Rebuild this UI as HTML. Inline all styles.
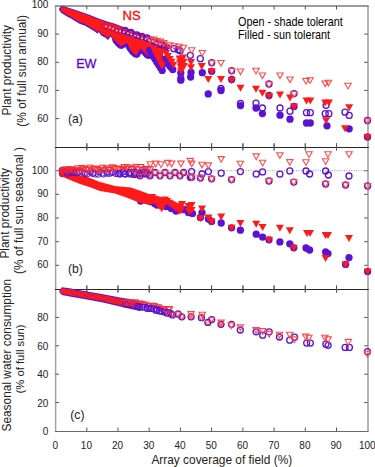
<!DOCTYPE html><html><head><meta charset="utf-8"><style>html,body{margin:0;padding:0;background:#fff;width:375px;height:467px;overflow:hidden}svg{display:block}text{font-family:"Liberation Sans",sans-serif}</style></head><body>
<svg width="375" height="467" viewBox="0 0 375 467">
<defs><pattern id="hatch" width="3.4" height="3.4" patternUnits="userSpaceOnUse" patternTransform="rotate(25)"><rect width="3.4" height="3.4" fill="#ff1a1a"/><rect width="1.0" height="1.6" fill="#5a12d6" fill-opacity="0.7"/></pattern><pattern id="hatch2" width="3.0" height="3.0" patternUnits="userSpaceOnUse" patternTransform="rotate(35)"><rect width="3.0" height="3.0" fill="#ff1a1a"/><rect width="0.9" height="3.0" fill="#5a12d6" fill-opacity="0.6"/></pattern></defs>
<rect width="375" height="467" fill="#fff"/>
<line x1="55.6" y1="6" x2="55.6" y2="431" stroke="#a2a2a2" stroke-width="1.5"/>
<line x1="368.0" y1="6" x2="368.0" y2="431" stroke="#a2a2a2" stroke-width="1.6"/>
<line x1="54.9" y1="6" x2="368.7" y2="6" stroke="#7a7a7a" stroke-width="1.5"/>
<line x1="54.9" y1="431.5" x2="368.7" y2="431.5" stroke="#6a6a6a" stroke-width="1.2"/>
<line x1="54.9" y1="147.5" x2="368.7" y2="147.5" stroke="#262626" stroke-width="1.2"/>
<line x1="54.9" y1="289.5" x2="368.7" y2="289.5" stroke="#262626" stroke-width="1.2"/>
<line x1="55.6" y1="118.6" x2="59.1" y2="118.6" stroke="#555555" stroke-width="1.0"/>
<line x1="364.2" y1="118.6" x2="367.7" y2="118.6" stroke="#555555" stroke-width="1.0"/>
<line x1="55.6" y1="90.4" x2="59.1" y2="90.4" stroke="#555555" stroke-width="1.0"/>
<line x1="364.2" y1="90.4" x2="367.7" y2="90.4" stroke="#555555" stroke-width="1.0"/>
<line x1="55.6" y1="62.3" x2="59.1" y2="62.3" stroke="#555555" stroke-width="1.0"/>
<line x1="364.2" y1="62.3" x2="367.7" y2="62.3" stroke="#555555" stroke-width="1.0"/>
<line x1="55.6" y1="34.1" x2="59.1" y2="34.1" stroke="#555555" stroke-width="1.0"/>
<line x1="364.2" y1="34.1" x2="367.7" y2="34.1" stroke="#555555" stroke-width="1.0"/>
<line x1="86.8" y1="6.0" x2="86.8" y2="9.5" stroke="#555555" stroke-width="1.0"/>
<line x1="86.8" y1="143.2" x2="86.8" y2="150.2" stroke="#555555" stroke-width="1.0"/>
<line x1="118.0" y1="6.0" x2="118.0" y2="9.5" stroke="#555555" stroke-width="1.0"/>
<line x1="118.0" y1="143.2" x2="118.0" y2="150.2" stroke="#555555" stroke-width="1.0"/>
<line x1="149.2" y1="6.0" x2="149.2" y2="9.5" stroke="#555555" stroke-width="1.0"/>
<line x1="149.2" y1="143.2" x2="149.2" y2="150.2" stroke="#555555" stroke-width="1.0"/>
<line x1="180.4" y1="6.0" x2="180.4" y2="9.5" stroke="#555555" stroke-width="1.0"/>
<line x1="180.4" y1="143.2" x2="180.4" y2="150.2" stroke="#555555" stroke-width="1.0"/>
<line x1="211.6" y1="6.0" x2="211.6" y2="9.5" stroke="#555555" stroke-width="1.0"/>
<line x1="211.6" y1="143.2" x2="211.6" y2="150.2" stroke="#555555" stroke-width="1.0"/>
<line x1="242.9" y1="6.0" x2="242.9" y2="9.5" stroke="#555555" stroke-width="1.0"/>
<line x1="242.9" y1="143.2" x2="242.9" y2="150.2" stroke="#555555" stroke-width="1.0"/>
<line x1="274.1" y1="6.0" x2="274.1" y2="9.5" stroke="#555555" stroke-width="1.0"/>
<line x1="274.1" y1="143.2" x2="274.1" y2="150.2" stroke="#555555" stroke-width="1.0"/>
<line x1="305.3" y1="6.0" x2="305.3" y2="9.5" stroke="#555555" stroke-width="1.0"/>
<line x1="305.3" y1="143.2" x2="305.3" y2="150.2" stroke="#555555" stroke-width="1.0"/>
<line x1="336.5" y1="6.0" x2="336.5" y2="9.5" stroke="#555555" stroke-width="1.0"/>
<line x1="336.5" y1="143.2" x2="336.5" y2="150.2" stroke="#555555" stroke-width="1.0"/>
<line x1="55.6" y1="265.3" x2="59.1" y2="265.3" stroke="#555555" stroke-width="1.0"/>
<line x1="364.2" y1="265.3" x2="367.7" y2="265.3" stroke="#555555" stroke-width="1.0"/>
<line x1="55.6" y1="241.7" x2="59.1" y2="241.7" stroke="#555555" stroke-width="1.0"/>
<line x1="364.2" y1="241.7" x2="367.7" y2="241.7" stroke="#555555" stroke-width="1.0"/>
<line x1="55.6" y1="218.0" x2="59.1" y2="218.0" stroke="#555555" stroke-width="1.0"/>
<line x1="364.2" y1="218.0" x2="367.7" y2="218.0" stroke="#555555" stroke-width="1.0"/>
<line x1="55.6" y1="194.3" x2="59.1" y2="194.3" stroke="#555555" stroke-width="1.0"/>
<line x1="364.2" y1="194.3" x2="367.7" y2="194.3" stroke="#555555" stroke-width="1.0"/>
<line x1="55.6" y1="170.7" x2="59.1" y2="170.7" stroke="#555555" stroke-width="1.0"/>
<line x1="364.2" y1="170.7" x2="367.7" y2="170.7" stroke="#555555" stroke-width="1.0"/>
<line x1="86.8" y1="143.5" x2="86.8" y2="150.5" stroke="#555555" stroke-width="1.0"/>
<line x1="86.8" y1="285.5" x2="86.8" y2="292.5" stroke="#555555" stroke-width="1.0"/>
<line x1="118.0" y1="143.5" x2="118.0" y2="150.5" stroke="#555555" stroke-width="1.0"/>
<line x1="118.0" y1="285.5" x2="118.0" y2="292.5" stroke="#555555" stroke-width="1.0"/>
<line x1="149.2" y1="143.5" x2="149.2" y2="150.5" stroke="#555555" stroke-width="1.0"/>
<line x1="149.2" y1="285.5" x2="149.2" y2="292.5" stroke="#555555" stroke-width="1.0"/>
<line x1="180.4" y1="143.5" x2="180.4" y2="150.5" stroke="#555555" stroke-width="1.0"/>
<line x1="180.4" y1="285.5" x2="180.4" y2="292.5" stroke="#555555" stroke-width="1.0"/>
<line x1="211.6" y1="143.5" x2="211.6" y2="150.5" stroke="#555555" stroke-width="1.0"/>
<line x1="211.6" y1="285.5" x2="211.6" y2="292.5" stroke="#555555" stroke-width="1.0"/>
<line x1="242.9" y1="143.5" x2="242.9" y2="150.5" stroke="#555555" stroke-width="1.0"/>
<line x1="242.9" y1="285.5" x2="242.9" y2="292.5" stroke="#555555" stroke-width="1.0"/>
<line x1="274.1" y1="143.5" x2="274.1" y2="150.5" stroke="#555555" stroke-width="1.0"/>
<line x1="274.1" y1="285.5" x2="274.1" y2="292.5" stroke="#555555" stroke-width="1.0"/>
<line x1="305.3" y1="143.5" x2="305.3" y2="150.5" stroke="#555555" stroke-width="1.0"/>
<line x1="305.3" y1="285.5" x2="305.3" y2="292.5" stroke="#555555" stroke-width="1.0"/>
<line x1="336.5" y1="143.5" x2="336.5" y2="150.5" stroke="#555555" stroke-width="1.0"/>
<line x1="336.5" y1="285.5" x2="336.5" y2="292.5" stroke="#555555" stroke-width="1.0"/>
<line x1="55.6" y1="402.6" x2="59.1" y2="402.6" stroke="#555555" stroke-width="1.0"/>
<line x1="364.2" y1="402.6" x2="367.7" y2="402.6" stroke="#555555" stroke-width="1.0"/>
<line x1="55.6" y1="374.2" x2="59.1" y2="374.2" stroke="#555555" stroke-width="1.0"/>
<line x1="364.2" y1="374.2" x2="367.7" y2="374.2" stroke="#555555" stroke-width="1.0"/>
<line x1="55.6" y1="345.8" x2="59.1" y2="345.8" stroke="#555555" stroke-width="1.0"/>
<line x1="364.2" y1="345.8" x2="367.7" y2="345.8" stroke="#555555" stroke-width="1.0"/>
<line x1="55.6" y1="317.4" x2="59.1" y2="317.4" stroke="#555555" stroke-width="1.0"/>
<line x1="364.2" y1="317.4" x2="367.7" y2="317.4" stroke="#555555" stroke-width="1.0"/>
<line x1="86.8" y1="285.5" x2="86.8" y2="292.5" stroke="#555555" stroke-width="1.0"/>
<line x1="86.8" y1="427.5" x2="86.8" y2="431.0" stroke="#555555" stroke-width="1.0"/>
<line x1="118.0" y1="285.5" x2="118.0" y2="292.5" stroke="#555555" stroke-width="1.0"/>
<line x1="118.0" y1="427.5" x2="118.0" y2="431.0" stroke="#555555" stroke-width="1.0"/>
<line x1="149.2" y1="285.5" x2="149.2" y2="292.5" stroke="#555555" stroke-width="1.0"/>
<line x1="149.2" y1="427.5" x2="149.2" y2="431.0" stroke="#555555" stroke-width="1.0"/>
<line x1="180.4" y1="285.5" x2="180.4" y2="292.5" stroke="#555555" stroke-width="1.0"/>
<line x1="180.4" y1="427.5" x2="180.4" y2="431.0" stroke="#555555" stroke-width="1.0"/>
<line x1="211.6" y1="285.5" x2="211.6" y2="292.5" stroke="#555555" stroke-width="1.0"/>
<line x1="211.6" y1="427.5" x2="211.6" y2="431.0" stroke="#555555" stroke-width="1.0"/>
<line x1="242.9" y1="285.5" x2="242.9" y2="292.5" stroke="#555555" stroke-width="1.0"/>
<line x1="242.9" y1="427.5" x2="242.9" y2="431.0" stroke="#555555" stroke-width="1.0"/>
<line x1="274.1" y1="285.5" x2="274.1" y2="292.5" stroke="#555555" stroke-width="1.0"/>
<line x1="274.1" y1="427.5" x2="274.1" y2="431.0" stroke="#555555" stroke-width="1.0"/>
<line x1="305.3" y1="285.5" x2="305.3" y2="292.5" stroke="#555555" stroke-width="1.0"/>
<line x1="305.3" y1="427.5" x2="305.3" y2="431.0" stroke="#555555" stroke-width="1.0"/>
<line x1="336.5" y1="285.5" x2="336.5" y2="292.5" stroke="#555555" stroke-width="1.0"/>
<line x1="336.5" y1="427.5" x2="336.5" y2="431.0" stroke="#555555" stroke-width="1.0"/>
<circle cx="116.0" cy="40.0" r="3.65" fill="#5a12d6"/>
<circle cx="117.3" cy="41.6" r="3.65" fill="#5a12d6"/>
<circle cx="118.6" cy="43.0" r="3.65" fill="#5a12d6"/>
<circle cx="119.9" cy="44.2" r="3.65" fill="#5a12d6"/>
<circle cx="121.2" cy="45.2" r="3.65" fill="#5a12d6"/>
<circle cx="122.5" cy="44.3" r="3.65" fill="#5a12d6"/>
<circle cx="123.8" cy="43.3" r="3.65" fill="#5a12d6"/>
<circle cx="125.1" cy="42.8" r="3.65" fill="#5a12d6"/>
<circle cx="126.4" cy="42.4" r="3.65" fill="#5a12d6"/>
<circle cx="127.7" cy="43.0" r="3.65" fill="#5a12d6"/>
<circle cx="129.0" cy="45.8" r="3.65" fill="#5a12d6"/>
<circle cx="130.3" cy="48.0" r="3.65" fill="#5a12d6"/>
<circle cx="131.6" cy="49.8" r="3.65" fill="#5a12d6"/>
<circle cx="132.9" cy="51.5" r="3.65" fill="#5a12d6"/>
<circle cx="134.2" cy="52.6" r="3.65" fill="#5a12d6"/>
<circle cx="135.5" cy="53.7" r="3.65" fill="#5a12d6"/>
<circle cx="136.8" cy="54.0" r="3.65" fill="#5a12d6"/>
<circle cx="138.1" cy="51.4" r="3.65" fill="#5a12d6"/>
<circle cx="139.4" cy="48.9" r="3.65" fill="#5a12d6"/>
<circle cx="140.7" cy="47.5" r="3.65" fill="#5a12d6"/>
<circle cx="142.0" cy="48.8" r="3.65" fill="#5a12d6"/>
<circle cx="143.3" cy="50.2" r="3.65" fill="#5a12d6"/>
<circle cx="144.6" cy="51.5" r="3.65" fill="#5a12d6"/>
<circle cx="145.9" cy="52.9" r="3.65" fill="#5a12d6"/>
<circle cx="147.2" cy="54.4" r="3.65" fill="#5a12d6"/>
<circle cx="148.5" cy="55.2" r="3.65" fill="#5a12d6"/>
<circle cx="149.8" cy="52.7" r="3.65" fill="#5a12d6"/>
<circle cx="151.1" cy="50.4" r="3.65" fill="#5a12d6"/>
<circle cx="152.4" cy="52.1" r="3.65" fill="#5a12d6"/>
<circle cx="153.7" cy="53.7" r="3.65" fill="#5a12d6"/>
<circle cx="155.0" cy="55.3" r="3.65" fill="#5a12d6"/>
<circle cx="156.3" cy="57.5" r="3.65" fill="#5a12d6"/>
<circle cx="157.6" cy="59.7" r="3.65" fill="#5a12d6"/>
<circle cx="158.9" cy="61.9" r="3.65" fill="#5a12d6"/>
<circle cx="160.2" cy="64.3" r="3.65" fill="#5a12d6"/>
<circle cx="161.5" cy="65.4" r="3.65" fill="#5a12d6"/>
<polygon points="59.0,8.5 60.5,6.8 63.0,6.0 71.0,8.6 80.0,11.4 89.3,14.7 98.7,18.4 108.0,21.7 115.0,23.8 122.0,26.5 130.7,29.8 136.3,32.0 141.3,33.8 145.7,35.2 155.0,37.8 160.0,40.0 166.0,42.7 170.0,45.0 170.0,48.5 163.0,53.0 161.4,70.0 158.4,64.5 155.2,59.1 151.0,53.8 148.3,59.1 144.5,54.9 140.3,50.6 136.5,58.1 132.8,54.9 129.6,50.6 127.3,45.6 124.0,46.7 121.0,48.8 117.7,45.6 115.0,42.2 112.7,39.9 110.8,36.6 108.0,39.9 105.2,37.5 101.5,35.7 98.7,31.9 97.7,33.8 94.0,31.0 89.3,28.2 84.7,25.4 80.0,24.0 75.0,21.0 71.0,18.6 67.0,16.6 61.4,13.0 59.4,10.6" fill="#5a12d6"/>
<polygon points="59.8,9.5 61.3,7.8 63.0,7.0 71.0,9.6 80.0,12.4 89.3,15.7 98.7,19.4 108.0,22.7 115.0,24.8 122.0,27.5 130.7,30.8 136.3,33.0 141.3,34.8 145.7,36.2 155.0,38.8 160.0,41.0 166.0,43.7 170.0,46.0 170.0,46.1 163.0,50.6 161.4,67.6 158.4,62.1 155.2,56.7 151.0,51.4 148.3,56.7 144.5,52.5 140.3,48.2 136.5,55.7 132.8,52.5 129.6,48.2 127.3,43.2 124.0,44.3 121.0,46.4 117.7,43.2 115.0,40.5 112.7,38.2 110.8,34.9 108.0,38.2 105.2,35.8 101.5,34.0 98.7,30.2 97.7,32.1 94.0,29.3 89.3,26.5 84.7,23.7 80.0,22.3 75.0,19.3 71.0,16.9 67.0,14.9 61.4,11.3 60.2,8.9" fill="#ff1a1a"/>
<circle cx="190.3" cy="55.3" r="3.00" fill="none" stroke="#5a12d6" stroke-width="1.3"/>
<circle cx="200.3" cy="58.7" r="3.00" fill="none" stroke="#5a12d6" stroke-width="1.3"/>
<circle cx="211.7" cy="62.7" r="3.00" fill="none" stroke="#5a12d6" stroke-width="1.3"/>
<circle cx="221.0" cy="88.5" r="3.00" fill="none" stroke="#5a12d6" stroke-width="1.3"/>
<circle cx="231.7" cy="70.7" r="3.00" fill="none" stroke="#5a12d6" stroke-width="1.3"/>
<circle cx="240.5" cy="103.5" r="3.00" fill="none" stroke="#5a12d6" stroke-width="1.3"/>
<circle cx="256.0" cy="103.2" r="3.00" fill="none" stroke="#5a12d6" stroke-width="1.3"/>
<circle cx="262.4" cy="108.0" r="3.00" fill="none" stroke="#5a12d6" stroke-width="1.3"/>
<circle cx="269.0" cy="84.0" r="3.00" fill="none" stroke="#5a12d6" stroke-width="1.3"/>
<circle cx="280.0" cy="108.0" r="3.00" fill="none" stroke="#5a12d6" stroke-width="1.3"/>
<circle cx="290.0" cy="111.2" r="3.00" fill="none" stroke="#5a12d6" stroke-width="1.3"/>
<circle cx="294.0" cy="93.6" r="3.00" fill="none" stroke="#5a12d6" stroke-width="1.3"/>
<circle cx="306.5" cy="112.7" r="3.00" fill="none" stroke="#5a12d6" stroke-width="1.3"/>
<circle cx="310.3" cy="112.7" r="3.00" fill="none" stroke="#5a12d6" stroke-width="1.3"/>
<circle cx="326.1" cy="105.3" r="3.00" fill="none" stroke="#5a12d6" stroke-width="1.3"/>
<circle cx="325.2" cy="113.7" r="3.00" fill="none" stroke="#5a12d6" stroke-width="1.3"/>
<circle cx="328.9" cy="113.7" r="3.00" fill="none" stroke="#5a12d6" stroke-width="1.3"/>
<circle cx="345.0" cy="112.2" r="3.00" fill="none" stroke="#5a12d6" stroke-width="1.3"/>
<circle cx="349.2" cy="115.4" r="3.00" fill="none" stroke="#5a12d6" stroke-width="1.3"/>
<circle cx="367.5" cy="120.5" r="3.00" fill="none" stroke="#5a12d6" stroke-width="1.3"/>
<circle cx="103.8" cy="26.1" r="2.4" fill="none" stroke="#5a12d6" stroke-width="0.7" stroke-opacity="0.6"/>
<circle cx="108.1" cy="28.0" r="2.4" fill="none" stroke="#5a12d6" stroke-width="0.7" stroke-opacity="0.6"/>
<circle cx="112.2" cy="28.7" r="2.4" fill="none" stroke="#5a12d6" stroke-width="0.7" stroke-opacity="0.6"/>
<circle cx="116.5" cy="30.7" r="2.4" fill="none" stroke="#5a12d6" stroke-width="0.7" stroke-opacity="0.6"/>
<circle cx="120.6" cy="32.0" r="2.4" fill="none" stroke="#5a12d6" stroke-width="0.7" stroke-opacity="0.6"/>
<circle cx="125.1" cy="32.7" r="2.4" fill="none" stroke="#5a12d6" stroke-width="0.7" stroke-opacity="0.6"/>
<circle cx="129.2" cy="34.3" r="2.4" fill="none" stroke="#5a12d6" stroke-width="0.7" stroke-opacity="0.6"/>
<circle cx="133.4" cy="36.2" r="2.4" fill="none" stroke="#5a12d6" stroke-width="0.7" stroke-opacity="0.6"/>
<circle cx="137.4" cy="36.6" r="2.4" fill="none" stroke="#5a12d6" stroke-width="0.7" stroke-opacity="0.6"/>
<circle cx="147.1" cy="38.0" r="3.00" fill="none" stroke="#5a12d6" stroke-width="1.3"/>
<circle cx="151.4" cy="40.1" r="3.00" fill="none" stroke="#5a12d6" stroke-width="1.3"/>
<circle cx="154.6" cy="41.7" r="3.00" fill="none" stroke="#5a12d6" stroke-width="1.3"/>
<circle cx="158.9" cy="43.9" r="3.00" fill="none" stroke="#5a12d6" stroke-width="1.3"/>
<circle cx="162.6" cy="44.9" r="3.00" fill="none" stroke="#5a12d6" stroke-width="1.3"/>
<circle cx="173.8" cy="48.7" r="3.00" fill="none" stroke="#5a12d6" stroke-width="1.3"/>
<circle cx="178.1" cy="49.7" r="3.00" fill="none" stroke="#5a12d6" stroke-width="1.3"/>
<circle cx="180.2" cy="50.8" r="3.00" fill="none" stroke="#5a12d6" stroke-width="1.3"/>
<circle cx="180.8" cy="78.5" r="3.00" fill="none" stroke="#5a12d6" stroke-width="1.3"/>
<circle cx="125.0" cy="30.5" r="3.00" fill="none" stroke="#5a12d6" stroke-width="1.3"/>
<circle cx="131.0" cy="32.5" r="3.00" fill="none" stroke="#5a12d6" stroke-width="1.3"/>
<circle cx="137.0" cy="35.0" r="3.00" fill="none" stroke="#5a12d6" stroke-width="1.3"/>
<circle cx="142.0" cy="36.5" r="3.00" fill="none" stroke="#5a12d6" stroke-width="1.3"/>
<circle cx="149.6" cy="50.5" r="3.65" fill="#5a12d6"/>
<circle cx="151.4" cy="53.3" r="3.65" fill="#5a12d6"/>
<circle cx="153.2" cy="56.2" r="3.65" fill="#5a12d6"/>
<circle cx="155.0" cy="59.0" r="3.65" fill="#5a12d6"/>
<circle cx="156.8" cy="61.9" r="3.65" fill="#5a12d6"/>
<circle cx="158.6" cy="64.7" r="3.65" fill="#5a12d6"/>
<circle cx="160.4" cy="67.6" r="3.65" fill="#5a12d6"/>
<circle cx="162.2" cy="70.4" r="3.65" fill="#5a12d6"/>
<circle cx="164.0" cy="59.2" r="3.65" fill="#5a12d6"/>
<circle cx="166.2" cy="61.8" r="3.65" fill="#5a12d6"/>
<circle cx="168.4" cy="64.4" r="3.65" fill="#5a12d6"/>
<circle cx="170.6" cy="67.0" r="3.65" fill="#5a12d6"/>
<circle cx="172.8" cy="69.6" r="3.65" fill="#5a12d6"/>
<circle cx="180.8" cy="73.0" r="3.65" fill="#5a12d6"/>
<circle cx="180.8" cy="80.2" r="3.65" fill="#5a12d6"/>
<circle cx="191.0" cy="72.3" r="3.65" fill="#5a12d6"/>
<circle cx="190.6" cy="77.0" r="3.65" fill="#5a12d6"/>
<circle cx="202.3" cy="72.7" r="3.65" fill="#5a12d6"/>
<circle cx="211.7" cy="71.3" r="3.65" fill="#5a12d6"/>
<circle cx="208.2" cy="93.9" r="3.65" fill="#5a12d6"/>
<circle cx="221.0" cy="90.5" r="3.65" fill="#5a12d6"/>
<circle cx="231.7" cy="79.5" r="3.65" fill="#5a12d6"/>
<circle cx="240.5" cy="105.6" r="3.65" fill="#5a12d6"/>
<circle cx="256.0" cy="108.0" r="3.65" fill="#5a12d6"/>
<circle cx="262.4" cy="113.6" r="3.65" fill="#5a12d6"/>
<circle cx="269.0" cy="95.5" r="3.65" fill="#5a12d6"/>
<circle cx="280.0" cy="115.2" r="3.65" fill="#5a12d6"/>
<circle cx="290.0" cy="119.2" r="3.65" fill="#5a12d6"/>
<circle cx="294.0" cy="106.4" r="3.65" fill="#5a12d6"/>
<circle cx="306.5" cy="123.0" r="3.65" fill="#5a12d6"/>
<circle cx="310.3" cy="123.0" r="3.65" fill="#5a12d6"/>
<circle cx="327.0" cy="125.8" r="3.65" fill="#5a12d6"/>
<circle cx="349.2" cy="128.8" r="3.65" fill="#5a12d6"/>
<circle cx="367.5" cy="137.0" r="3.65" fill="#5a12d6"/>
<polygon points="149.5,45.5 157.5,45.5 153.5,52.5" fill="#ff1a1a"/>
<polygon points="150.9,48.3 158.9,48.3 154.9,55.3" fill="#ff1a1a"/>
<polygon points="152.3,51.2 160.3,51.2 156.3,58.2" fill="#ff1a1a"/>
<polygon points="153.8,54.0 161.8,54.0 157.8,61.0" fill="#ff1a1a"/>
<polygon points="155.2,56.8 163.2,56.8 159.2,63.8" fill="#ff1a1a"/>
<polygon points="156.6,59.7 164.6,59.7 160.6,66.7" fill="#ff1a1a"/>
<polygon points="158.0,62.5 166.0,62.5 162.0,69.5" fill="#ff1a1a"/>
<polygon points="162.0,50.0 170.0,50.0 166.0,57.0" fill="#ff1a1a"/>
<polygon points="163.8,53.0 171.8,53.0 167.8,60.0" fill="#ff1a1a"/>
<polygon points="165.7,55.9 173.7,55.9 169.7,62.9" fill="#ff1a1a"/>
<polygon points="167.5,58.8 175.5,58.8 171.5,65.8" fill="#ff1a1a"/>
<polygon points="169.3,61.8 177.3,61.8 173.3,68.8" fill="#ff1a1a"/>
<polygon points="175.5,55.5 183.5,55.5 179.5,62.5" fill="#ff1a1a"/>
<polygon points="176.0,59.5 184.0,59.5 180.0,66.5" fill="#ff1a1a"/>
<polygon points="176.5,63.6 184.5,63.6 180.5,70.6" fill="#ff1a1a"/>
<polygon points="177.0,67.6 185.0,67.6 181.0,74.6" fill="#ff1a1a"/>
<polygon points="179.0,54.5 187.0,54.5 183.0,61.5" fill="#ff1a1a"/>
<polygon points="179.5,58.8 187.5,58.8 183.5,65.8" fill="#ff1a1a"/>
<polygon points="180.0,63.0 188.0,63.0 184.0,70.0" fill="#ff1a1a"/>
<polygon points="187.0,59.0 195.0,59.0 191.0,66.0" fill="#ff1a1a"/>
<polygon points="187.0,64.3 195.0,64.3 191.0,71.3" fill="#ff1a1a"/>
<polygon points="197.7,63.0 205.7,63.0 201.7,70.0" fill="#ff1a1a"/>
<polygon points="207.7,68.3 215.7,68.3 211.7,75.3" fill="#ff1a1a"/>
<polygon points="204.3,76.0 212.3,76.0 208.3,83.0" fill="#ff1a1a"/>
<polygon points="217.0,76.0 225.0,76.0 221.0,83.0" fill="#ff1a1a"/>
<polygon points="227.7,77.0 235.7,77.0 231.7,84.0" fill="#ff1a1a"/>
<polygon points="236.5,84.8 244.5,84.8 240.5,91.8" fill="#ff1a1a"/>
<polygon points="252.0,85.8 260.0,85.8 256.0,92.8" fill="#ff1a1a"/>
<polygon points="258.4,89.8 266.4,89.8 262.4,96.8" fill="#ff1a1a"/>
<polygon points="265.0,93.0 273.0,93.0 269.0,100.0" fill="#ff1a1a"/>
<polygon points="276.0,91.4 284.0,91.4 280.0,98.4" fill="#ff1a1a"/>
<polygon points="286.0,94.6 294.0,94.6 290.0,101.6" fill="#ff1a1a"/>
<polygon points="290.0,103.4 298.0,103.4 294.0,110.4" fill="#ff1a1a"/>
<polygon points="302.5,97.6 310.5,97.6 306.5,104.6" fill="#ff1a1a"/>
<polygon points="306.3,97.6 314.3,97.6 310.3,104.6" fill="#ff1a1a"/>
<polygon points="321.2,99.5 329.2,99.5 325.2,106.5" fill="#ff1a1a"/>
<polygon points="324.9,99.5 332.9,99.5 328.9,106.5" fill="#ff1a1a"/>
<polygon points="322.1,117.2 330.1,117.2 326.1,124.2" fill="#ff1a1a"/>
<polygon points="345.2,104.2 353.2,104.2 349.2,111.2" fill="#ff1a1a"/>
<polygon points="341.0,125.2 349.0,125.2 345.0,132.2" fill="#ff1a1a"/>
<polygon points="363.5,134.0 371.5,134.0 367.5,141.0" fill="#ff1a1a"/>
<polygon points="147.1,37.3 153.5,37.3 150.3,43.0" fill="none" stroke="#ff4a4a" stroke-width="1.1" stroke-linejoin="miter"/>
<polygon points="150.6,37.0 157.0,37.0 153.8,42.7" fill="none" stroke="#ff4a4a" stroke-width="1.1" stroke-linejoin="miter"/>
<polygon points="153.9,38.5 160.3,38.5 157.1,44.2" fill="none" stroke="#ff4a4a" stroke-width="1.1" stroke-linejoin="miter"/>
<polygon points="157.3,39.1 163.7,39.1 160.5,44.8" fill="none" stroke="#ff4a4a" stroke-width="1.1" stroke-linejoin="miter"/>
<polygon points="160.6,40.6 167.0,40.6 163.8,46.3" fill="none" stroke="#ff4a4a" stroke-width="1.1" stroke-linejoin="miter"/>
<polygon points="166.3,42.8 172.7,42.8 169.5,48.5" fill="none" stroke="#ff4a4a" stroke-width="1.1" stroke-linejoin="miter"/>
<polygon points="170.8,43.8 177.2,43.8 174.0,49.5" fill="none" stroke="#ff4a4a" stroke-width="1.1" stroke-linejoin="miter"/>
<polygon points="175.8,44.2 182.2,44.2 179.0,50.0" fill="none" stroke="#ff4a4a" stroke-width="1.1" stroke-linejoin="miter"/>
<polygon points="180.2,45.2 186.6,45.2 183.4,51.0" fill="none" stroke="#ff4a4a" stroke-width="1.1" stroke-linejoin="miter"/>
<polygon points="188.5,47.8 194.9,47.8 191.7,53.5" fill="none" stroke="#ff4a4a" stroke-width="1.1" stroke-linejoin="miter"/>
<polygon points="199.1,50.5 205.5,50.5 202.3,56.2" fill="none" stroke="#ff4a4a" stroke-width="1.1" stroke-linejoin="miter"/>
<polygon points="217.8,60.5 224.2,60.5 221.0,66.1" fill="none" stroke="#ff4a4a" stroke-width="1.1" stroke-linejoin="miter"/>
<polygon points="237.3,69.0 243.7,69.0 240.5,74.6" fill="none" stroke="#ff4a4a" stroke-width="1.1" stroke-linejoin="miter"/>
<polygon points="252.8,68.2 259.2,68.2 256.0,73.9" fill="none" stroke="#ff4a4a" stroke-width="1.1" stroke-linejoin="miter"/>
<polygon points="259.2,73.0 265.6,73.0 262.4,78.6" fill="none" stroke="#ff4a4a" stroke-width="1.1" stroke-linejoin="miter"/>
<polygon points="276.8,73.0 283.2,73.0 280.0,78.6" fill="none" stroke="#ff4a4a" stroke-width="1.1" stroke-linejoin="miter"/>
<polygon points="286.8,77.0 293.2,77.0 290.0,82.6" fill="none" stroke="#ff4a4a" stroke-width="1.1" stroke-linejoin="miter"/>
<polygon points="302.8,78.5 309.2,78.5 306.0,84.2" fill="none" stroke="#ff4a4a" stroke-width="1.1" stroke-linejoin="miter"/>
<polygon points="306.8,77.8 313.2,77.8 310.0,83.4" fill="none" stroke="#ff4a4a" stroke-width="1.1" stroke-linejoin="miter"/>
<polygon points="322.0,81.0 328.4,81.0 325.2,86.6" fill="none" stroke="#ff4a4a" stroke-width="1.1" stroke-linejoin="miter"/>
<polygon points="325.2,80.2 331.6,80.2 328.4,85.8" fill="none" stroke="#ff4a4a" stroke-width="1.1" stroke-linejoin="miter"/>
<polygon points="344.8,83.3 351.2,83.3 348.0,89.0" fill="none" stroke="#ff4a4a" stroke-width="1.1" stroke-linejoin="miter"/>
<polygon points="364.3,118.2 370.7,118.2 367.5,123.9" fill="none" stroke="#ff4a4a" stroke-width="1.1" stroke-linejoin="miter"/>
<polygon points="228.5,68.8 234.9,68.8 231.7,74.4" fill="none" stroke="#ff4a4a" stroke-width="1.1" stroke-linejoin="miter"/>
<polygon points="265.8,82.0 272.2,82.0 269.0,87.7" fill="none" stroke="#ff4a4a" stroke-width="1.1" stroke-linejoin="miter"/>
<polygon points="290.8,91.8 297.2,91.8 294.0,97.4" fill="none" stroke="#ff4a4a" stroke-width="1.1" stroke-linejoin="miter"/>
<polygon points="208.5,60.8 214.9,60.8 211.7,66.4" fill="none" stroke="#ff4a4a" stroke-width="1.1" stroke-linejoin="miter"/>
<circle cx="106.0" cy="26.4" r="0.9" fill="#fff" fill-opacity="0.85"/>
<circle cx="109.8" cy="27.5" r="0.9" fill="#fff" fill-opacity="0.85"/>
<circle cx="113.2" cy="28.7" r="0.9" fill="#fff" fill-opacity="0.85"/>
<circle cx="116.7" cy="30.6" r="0.9" fill="#fff" fill-opacity="0.85"/>
<circle cx="120.2" cy="31.1" r="0.9" fill="#fff" fill-opacity="0.85"/>
<circle cx="123.8" cy="32.1" r="0.9" fill="#fff" fill-opacity="0.85"/>
<circle cx="127.9" cy="33.2" r="0.9" fill="#fff" fill-opacity="0.85"/>
<circle cx="131.3" cy="34.4" r="0.9" fill="#fff" fill-opacity="0.85"/>
<circle cx="134.9" cy="35.6" r="0.9" fill="#fff" fill-opacity="0.85"/>
<circle cx="138.2" cy="36.7" r="0.9" fill="#fff" fill-opacity="0.85"/>
<circle cx="141.9" cy="38.4" r="0.9" fill="#fff" fill-opacity="0.85"/>
<circle cx="145.6" cy="38.8" r="0.9" fill="#fff" fill-opacity="0.85"/>
<circle cx="149.3" cy="40.2" r="0.9" fill="#fff" fill-opacity="0.85"/>
<circle cx="152.8" cy="41.3" r="0.9" fill="#fff" fill-opacity="0.85"/>
<circle cx="156.3" cy="43.1" r="0.9" fill="#fff" fill-opacity="0.85"/>
<circle cx="160.0" cy="44.3" r="0.9" fill="#fff" fill-opacity="0.85"/>
<circle cx="62.5" cy="170.5" r="3.65" fill="#5a12d6"/>
<circle cx="62.5" cy="173.5" r="3.65" fill="#5a12d6"/>
<circle cx="140.6" cy="201.0" r="3.65" fill="#5a12d6"/>
<circle cx="150.2" cy="201.5" r="3.65" fill="#5a12d6"/>
<circle cx="154.5" cy="203.5" r="3.65" fill="#5a12d6"/>
<circle cx="157.0" cy="205.0" r="3.65" fill="#5a12d6"/>
<circle cx="166.0" cy="206.5" r="3.65" fill="#5a12d6"/>
<circle cx="171.3" cy="208.5" r="3.65" fill="#5a12d6"/>
<circle cx="176.0" cy="211.0" r="3.65" fill="#5a12d6"/>
<circle cx="184.0" cy="209.5" r="3.65" fill="#5a12d6"/>
<line x1="56" y1="170.7" x2="367" y2="170.7" stroke="#9a9a9a" stroke-width="1" stroke-dasharray="1 1.4"/>
<polygon points="59.3,171.0 70.0,173.0 86.0,176.5 90.0,178.0 100.0,182.0 115.0,185.9 131.0,187.5 141.7,191.2 149.0,193.9 156.0,195.4 168.8,199.5 178.0,203.0 183.2,203.5 183.2,208.0 180.0,209.5 175.0,206.5 170.0,204.5 165.0,205.0 161.0,204.5 155.0,203.5 147.0,204.5 136.3,201.5 125.7,197.2 115.0,193.6 100.0,191.0 90.0,187.3 80.0,184.0 70.0,180.0 62.0,176.5 59.3,174.0" fill="#ff1a1a"/>
<polygon points="58.7,169.0 60.6,167.1 70.0,166.6 70.0,172.0 59.0,172.0" fill="#5a12d6"/>
<polygon points="59.3,169.0 61.0,167.8 70.0,167.3 76.0,167.2 76.0,175.2 70.0,175.5 61.0,174.0 59.3,172.0" fill="#ff1a1a"/>
<circle cx="65.8" cy="171.5" r="3.0" fill="none" stroke="#5a12d6" stroke-width="1.0"/>
<circle cx="67.5" cy="173.7" r="3.0" fill="none" stroke="#5a12d6" stroke-width="1.0"/>
<circle cx="70.1" cy="173.0" r="3.0" fill="none" stroke="#5a12d6" stroke-width="1.0"/>
<circle cx="72.1" cy="172.1" r="3.0" fill="none" stroke="#5a12d6" stroke-width="1.0"/>
<circle cx="74.4" cy="172.7" r="3.0" fill="none" stroke="#5a12d6" stroke-width="1.0"/>
<circle cx="76.4" cy="173.0" r="3.0" fill="none" stroke="#5a12d6" stroke-width="1.0"/>
<circle cx="78.5" cy="172.3" r="3.0" fill="none" stroke="#5a12d6" stroke-width="1.0"/>
<circle cx="79.4" cy="171.4" r="3.0" fill="none" stroke="#5a12d6" stroke-width="1.0"/>
<circle cx="82.4" cy="171.5" r="3.0" fill="none" stroke="#5a12d6" stroke-width="1.0"/>
<circle cx="84.2" cy="173.0" r="3.0" fill="none" stroke="#5a12d6" stroke-width="1.0"/>
<circle cx="85.3" cy="173.5" r="3.0" fill="none" stroke="#5a12d6" stroke-width="1.0"/>
<circle cx="87.3" cy="173.8" r="3.0" fill="none" stroke="#5a12d6" stroke-width="1.0"/>
<circle cx="90.5" cy="171.8" r="3.0" fill="none" stroke="#5a12d6" stroke-width="1.0"/>
<circle cx="92.4" cy="173.4" r="3.0" fill="none" stroke="#5a12d6" stroke-width="1.0"/>
<circle cx="93.4" cy="173.3" r="3.0" fill="none" stroke="#5a12d6" stroke-width="1.0"/>
<circle cx="95.4" cy="174.1" r="3.0" fill="none" stroke="#5a12d6" stroke-width="1.0"/>
<circle cx="98.3" cy="174.3" r="3.0" fill="none" stroke="#5a12d6" stroke-width="1.0"/>
<circle cx="99.3" cy="172.2" r="3.0" fill="none" stroke="#5a12d6" stroke-width="1.0"/>
<circle cx="102.2" cy="173.2" r="3.0" fill="none" stroke="#5a12d6" stroke-width="1.0"/>
<circle cx="103.5" cy="174.1" r="3.0" fill="none" stroke="#5a12d6" stroke-width="1.0"/>
<circle cx="106.6" cy="172.2" r="3.0" fill="none" stroke="#5a12d6" stroke-width="1.0"/>
<circle cx="107.4" cy="173.4" r="3.0" fill="none" stroke="#5a12d6" stroke-width="1.0"/>
<circle cx="109.9" cy="173.4" r="3.0" fill="none" stroke="#5a12d6" stroke-width="1.0"/>
<circle cx="112.0" cy="172.6" r="3.0" fill="none" stroke="#5a12d6" stroke-width="1.0"/>
<circle cx="113.2" cy="171.8" r="3.0" fill="none" stroke="#5a12d6" stroke-width="1.0"/>
<circle cx="115.9" cy="173.7" r="3.0" fill="none" stroke="#5a12d6" stroke-width="1.0"/>
<circle cx="117.9" cy="173.8" r="3.0" fill="none" stroke="#5a12d6" stroke-width="1.0"/>
<circle cx="120.1" cy="174.2" r="3.0" fill="none" stroke="#5a12d6" stroke-width="1.0"/>
<circle cx="122.2" cy="172.4" r="3.0" fill="none" stroke="#5a12d6" stroke-width="1.0"/>
<circle cx="123.4" cy="171.7" r="3.0" fill="none" stroke="#5a12d6" stroke-width="1.0"/>
<circle cx="125.3" cy="174.2" r="3.0" fill="none" stroke="#5a12d6" stroke-width="1.0"/>
<circle cx="128.6" cy="173.9" r="3.0" fill="none" stroke="#5a12d6" stroke-width="1.0"/>
<circle cx="129.4" cy="173.6" r="3.0" fill="none" stroke="#5a12d6" stroke-width="1.0"/>
<circle cx="131.4" cy="174.4" r="3.0" fill="none" stroke="#5a12d6" stroke-width="1.0"/>
<circle cx="134.2" cy="173.9" r="3.0" fill="none" stroke="#5a12d6" stroke-width="1.0"/>
<circle cx="136.2" cy="172.9" r="3.0" fill="none" stroke="#5a12d6" stroke-width="1.0"/>
<circle cx="138.6" cy="174.7" r="3.0" fill="none" stroke="#5a12d6" stroke-width="1.0"/>
<circle cx="139.6" cy="173.0" r="3.0" fill="none" stroke="#5a12d6" stroke-width="1.0"/>
<circle cx="142.4" cy="173.8" r="3.0" fill="none" stroke="#5a12d6" stroke-width="1.0"/>
<circle cx="143.9" cy="173.1" r="3.0" fill="none" stroke="#5a12d6" stroke-width="1.0"/>
<circle cx="146.7" cy="172.5" r="3.0" fill="none" stroke="#5a12d6" stroke-width="1.0"/>
<circle cx="147.5" cy="173.9" r="3.0" fill="none" stroke="#5a12d6" stroke-width="1.0"/>
<circle cx="149.6" cy="174.6" r="3.0" fill="none" stroke="#5a12d6" stroke-width="1.0"/>
<polygon points="60.0,167.8 66.6,167.8 63.3,173.5" fill="none" stroke="#ff2a2a" stroke-width="1.0"/>
<polygon points="62.1,167.0 68.7,167.0 65.4,172.7" fill="none" stroke="#ff2a2a" stroke-width="1.0"/>
<polygon points="65.0,168.0 71.6,168.0 68.3,173.7" fill="none" stroke="#ff2a2a" stroke-width="1.0"/>
<polygon points="66.6,167.0 73.2,167.0 69.9,172.7" fill="none" stroke="#ff2a2a" stroke-width="1.0"/>
<polygon points="67.9,166.8 74.5,166.8 71.2,172.5" fill="none" stroke="#ff2a2a" stroke-width="1.0"/>
<polygon points="70.5,168.1 77.1,168.1 73.8,173.8" fill="none" stroke="#ff2a2a" stroke-width="1.0"/>
<polygon points="72.8,167.7 79.4,167.7 76.1,173.4" fill="none" stroke="#ff2a2a" stroke-width="1.0"/>
<polygon points="74.6,165.8 81.2,165.8 77.9,171.5" fill="none" stroke="#ff2a2a" stroke-width="1.0"/>
<polygon points="77.3,167.9 83.9,167.9 80.6,173.6" fill="none" stroke="#ff2a2a" stroke-width="1.0"/>
<polygon points="78.5,165.5 85.1,165.5 81.8,171.2" fill="none" stroke="#ff2a2a" stroke-width="1.0"/>
<polygon points="80.7,166.8 87.3,166.8 84.0,172.5" fill="none" stroke="#ff2a2a" stroke-width="1.0"/>
<polygon points="83.1,167.1 89.7,167.1 86.4,172.8" fill="none" stroke="#ff2a2a" stroke-width="1.0"/>
<polygon points="84.7,167.0 91.3,167.0 88.0,172.7" fill="none" stroke="#ff2a2a" stroke-width="1.0"/>
<polygon points="86.5,165.2 93.1,165.2 89.8,170.9" fill="none" stroke="#ff2a2a" stroke-width="1.0"/>
<polygon points="88.0,168.1 94.6,168.1 91.3,173.8" fill="none" stroke="#ff2a2a" stroke-width="1.0"/>
<polygon points="91.2,166.0 97.8,166.0 94.5,171.7" fill="none" stroke="#ff2a2a" stroke-width="1.0"/>
<polygon points="93.3,166.6 99.9,166.6 96.6,172.3" fill="none" stroke="#ff2a2a" stroke-width="1.0"/>
<polygon points="94.1,167.7 100.7,167.7 97.4,173.4" fill="none" stroke="#ff2a2a" stroke-width="1.0"/>
<polygon points="96.8,167.9 103.4,167.9 100.1,173.6" fill="none" stroke="#ff2a2a" stroke-width="1.0"/>
<polygon points="99.0,165.2 105.6,165.2 102.3,170.9" fill="none" stroke="#ff2a2a" stroke-width="1.0"/>
<polygon points="100.9,167.3 107.5,167.3 104.2,173.0" fill="none" stroke="#ff2a2a" stroke-width="1.0"/>
<polygon points="103.3,165.8 109.9,165.8 106.6,171.5" fill="none" stroke="#ff2a2a" stroke-width="1.0"/>
<polygon points="104.7,167.0 111.3,167.0 108.0,172.7" fill="none" stroke="#ff2a2a" stroke-width="1.0"/>
<polygon points="106.2,167.4 112.8,167.4 109.5,173.1" fill="none" stroke="#ff2a2a" stroke-width="1.0"/>
<polygon points="109.1,164.8 115.7,164.8 112.4,170.5" fill="none" stroke="#ff2a2a" stroke-width="1.0"/>
<polygon points="110.8,165.8 117.4,165.8 114.1,171.5" fill="none" stroke="#ff2a2a" stroke-width="1.0"/>
<polygon points="112.2,166.5 118.8,166.5 115.5,172.2" fill="none" stroke="#ff2a2a" stroke-width="1.0"/>
<polygon points="115.5,166.3 122.1,166.3 118.8,172.0" fill="none" stroke="#ff2a2a" stroke-width="1.0"/>
<polygon points="116.1,166.1 122.7,166.1 119.4,171.8" fill="none" stroke="#ff2a2a" stroke-width="1.0"/>
<polygon points="119.1,167.5 125.7,167.5 122.4,173.2" fill="none" stroke="#ff2a2a" stroke-width="1.0"/>
<polygon points="121.0,164.6 127.6,164.6 124.3,170.3" fill="none" stroke="#ff2a2a" stroke-width="1.0"/>
<polygon points="123.4,166.3 130.0,166.3 126.7,172.0" fill="none" stroke="#ff2a2a" stroke-width="1.0"/>
<polygon points="124.0,164.7 130.6,164.7 127.3,170.4" fill="none" stroke="#ff2a2a" stroke-width="1.0"/>
<polygon points="126.0,166.4 132.6,166.4 129.3,172.1" fill="none" stroke="#ff2a2a" stroke-width="1.0"/>
<polygon points="128.1,166.8 134.7,166.8 131.4,172.5" fill="none" stroke="#ff2a2a" stroke-width="1.0"/>
<polygon points="130.1,165.9 136.7,165.9 133.4,171.6" fill="none" stroke="#ff2a2a" stroke-width="1.0"/>
<polygon points="132.6,164.3 139.2,164.3 135.9,170.0" fill="none" stroke="#ff2a2a" stroke-width="1.0"/>
<polygon points="133.9,167.0 140.5,167.0 137.2,172.7" fill="none" stroke="#ff2a2a" stroke-width="1.0"/>
<polygon points="137.5,164.5 144.1,164.5 140.8,170.2" fill="none" stroke="#ff2a2a" stroke-width="1.0"/>
<polygon points="139.1,167.2 145.7,167.2 142.4,172.9" fill="none" stroke="#ff2a2a" stroke-width="1.0"/>
<polygon points="141.3,166.9 147.9,166.9 144.6,172.6" fill="none" stroke="#ff2a2a" stroke-width="1.0"/>
<polygon points="142.4,166.3 149.0,166.3 145.7,172.0" fill="none" stroke="#ff2a2a" stroke-width="1.0"/>
<polygon points="144.7,166.9 151.3,166.9 148.0,172.6" fill="none" stroke="#ff2a2a" stroke-width="1.0"/>
<polygon points="147.0,166.6 153.6,166.6 150.3,172.3" fill="none" stroke="#ff2a2a" stroke-width="1.0"/>
<circle cx="135.0" cy="172.5" r="3.00" fill="none" stroke="#5a12d6" stroke-width="1.3"/>
<circle cx="145.0" cy="172.5" r="3.00" fill="none" stroke="#5a12d6" stroke-width="1.3"/>
<circle cx="155.0" cy="172.5" r="3.00" fill="none" stroke="#5a12d6" stroke-width="1.3"/>
<circle cx="165.0" cy="172.5" r="3.00" fill="none" stroke="#5a12d6" stroke-width="1.3"/>
<circle cx="175.0" cy="172.5" r="3.00" fill="none" stroke="#5a12d6" stroke-width="1.3"/>
<circle cx="183.7" cy="172.5" r="3.00" fill="none" stroke="#5a12d6" stroke-width="1.3"/>
<circle cx="140.0" cy="175.8" r="3.00" fill="none" stroke="#5a12d6" stroke-width="1.3"/>
<circle cx="150.0" cy="175.8" r="3.00" fill="none" stroke="#5a12d6" stroke-width="1.3"/>
<circle cx="160.0" cy="175.8" r="3.00" fill="none" stroke="#5a12d6" stroke-width="1.3"/>
<circle cx="170.0" cy="175.8" r="3.00" fill="none" stroke="#5a12d6" stroke-width="1.3"/>
<circle cx="180.0" cy="175.8" r="3.00" fill="none" stroke="#5a12d6" stroke-width="1.3"/>
<circle cx="190.3" cy="177.3" r="3.00" fill="none" stroke="#5a12d6" stroke-width="1.3"/>
<circle cx="119.7" cy="173.5" r="3.00" fill="none" stroke="#5a12d6" stroke-width="1.3"/>
<circle cx="124.8" cy="173.8" r="3.00" fill="none" stroke="#5a12d6" stroke-width="1.3"/>
<circle cx="130.2" cy="172.6" r="3.00" fill="none" stroke="#5a12d6" stroke-width="1.3"/>
<circle cx="134.4" cy="174.6" r="3.00" fill="none" stroke="#5a12d6" stroke-width="1.3"/>
<circle cx="139.7" cy="173.2" r="3.00" fill="none" stroke="#5a12d6" stroke-width="1.3"/>
<circle cx="145.6" cy="173.9" r="3.00" fill="none" stroke="#5a12d6" stroke-width="1.3"/>
<circle cx="191.6" cy="171.6" r="3.00" fill="none" stroke="#5a12d6" stroke-width="1.3"/>
<circle cx="191.6" cy="177.2" r="3.00" fill="none" stroke="#5a12d6" stroke-width="1.3"/>
<circle cx="202.0" cy="174.0" r="3.00" fill="none" stroke="#5a12d6" stroke-width="1.3"/>
<circle cx="200.4" cy="178.0" r="3.00" fill="none" stroke="#5a12d6" stroke-width="1.3"/>
<circle cx="208.4" cy="171.6" r="3.00" fill="none" stroke="#5a12d6" stroke-width="1.3"/>
<circle cx="211.6" cy="178.8" r="3.00" fill="none" stroke="#5a12d6" stroke-width="1.3"/>
<circle cx="221.2" cy="173.2" r="3.00" fill="none" stroke="#5a12d6" stroke-width="1.3"/>
<circle cx="231.6" cy="179.6" r="3.00" fill="none" stroke="#5a12d6" stroke-width="1.3"/>
<circle cx="240.4" cy="171.6" r="3.00" fill="none" stroke="#5a12d6" stroke-width="1.3"/>
<circle cx="256.2" cy="174.1" r="3.00" fill="none" stroke="#5a12d6" stroke-width="1.3"/>
<circle cx="262.6" cy="171.9" r="3.00" fill="none" stroke="#5a12d6" stroke-width="1.3"/>
<circle cx="269.0" cy="181.0" r="3.00" fill="none" stroke="#5a12d6" stroke-width="1.3"/>
<circle cx="279.9" cy="174.1" r="3.00" fill="none" stroke="#5a12d6" stroke-width="1.3"/>
<circle cx="289.8" cy="170.9" r="3.00" fill="none" stroke="#5a12d6" stroke-width="1.3"/>
<circle cx="293.8" cy="182.1" r="3.00" fill="none" stroke="#5a12d6" stroke-width="1.3"/>
<circle cx="306.0" cy="171.0" r="3.00" fill="none" stroke="#5a12d6" stroke-width="1.3"/>
<circle cx="309.6" cy="174.0" r="3.00" fill="none" stroke="#5a12d6" stroke-width="1.3"/>
<circle cx="325.6" cy="171.0" r="3.00" fill="none" stroke="#5a12d6" stroke-width="1.3"/>
<circle cx="328.4" cy="175.0" r="3.00" fill="none" stroke="#5a12d6" stroke-width="1.3"/>
<circle cx="325.6" cy="184.0" r="3.00" fill="none" stroke="#5a12d6" stroke-width="1.3"/>
<circle cx="349.0" cy="176.0" r="3.00" fill="none" stroke="#5a12d6" stroke-width="1.3"/>
<circle cx="345.6" cy="185.0" r="3.00" fill="none" stroke="#5a12d6" stroke-width="1.3"/>
<circle cx="367.6" cy="186.0" r="3.00" fill="none" stroke="#5a12d6" stroke-width="1.3"/>
<circle cx="188.4" cy="212.5" r="3.65" fill="#5a12d6"/>
<circle cx="192.4" cy="213.4" r="3.65" fill="#5a12d6"/>
<circle cx="202.0" cy="212.6" r="3.65" fill="#5a12d6"/>
<circle cx="200.4" cy="217.4" r="3.65" fill="#5a12d6"/>
<circle cx="208.4" cy="219.0" r="3.65" fill="#5a12d6"/>
<circle cx="211.6" cy="221.4" r="3.65" fill="#5a12d6"/>
<circle cx="221.2" cy="223.0" r="3.65" fill="#5a12d6"/>
<circle cx="231.6" cy="227.8" r="3.65" fill="#5a12d6"/>
<circle cx="240.4" cy="230.2" r="3.65" fill="#5a12d6"/>
<circle cx="256.2" cy="234.2" r="3.65" fill="#5a12d6"/>
<circle cx="262.6" cy="237.1" r="3.65" fill="#5a12d6"/>
<circle cx="269.0" cy="239.8" r="3.65" fill="#5a12d6"/>
<circle cx="279.9" cy="241.9" r="3.65" fill="#5a12d6"/>
<circle cx="289.8" cy="243.8" r="3.65" fill="#5a12d6"/>
<circle cx="293.8" cy="247.8" r="3.65" fill="#5a12d6"/>
<circle cx="306.0" cy="248.0" r="3.65" fill="#5a12d6"/>
<circle cx="309.6" cy="250.0" r="3.65" fill="#5a12d6"/>
<circle cx="325.6" cy="252.0" r="3.65" fill="#5a12d6"/>
<circle cx="328.0" cy="253.6" r="3.65" fill="#5a12d6"/>
<circle cx="349.0" cy="257.6" r="3.65" fill="#5a12d6"/>
<circle cx="345.6" cy="264.4" r="3.65" fill="#5a12d6"/>
<circle cx="367.6" cy="271.6" r="3.65" fill="#5a12d6"/>
<polygon points="148.0,194.0 156.0,194.0 152.0,201.0" fill="#ff1a1a"/>
<polygon points="149.9,196.2 157.9,196.2 153.9,203.2" fill="#ff1a1a"/>
<polygon points="151.9,198.5 159.9,198.5 155.9,205.5" fill="#ff1a1a"/>
<polygon points="153.8,200.7 161.8,200.7 157.8,207.7" fill="#ff1a1a"/>
<polygon points="155.8,203.0 163.8,203.0 159.8,210.0" fill="#ff1a1a"/>
<polygon points="157.7,205.2 165.7,205.2 161.7,212.2" fill="#ff1a1a"/>
<polygon points="161.0,196.5 169.0,196.5 165.0,203.5" fill="#ff1a1a"/>
<polygon points="163.1,198.1 171.1,198.1 167.1,205.1" fill="#ff1a1a"/>
<polygon points="165.3,199.7 173.3,199.7 169.3,206.7" fill="#ff1a1a"/>
<polygon points="167.4,201.3 175.4,201.3 171.4,208.3" fill="#ff1a1a"/>
<polygon points="169.6,203.0 177.6,203.0 173.6,210.0" fill="#ff1a1a"/>
<polygon points="171.7,204.6 179.7,204.6 175.7,211.6" fill="#ff1a1a"/>
<polygon points="173.9,206.2 181.9,206.2 177.9,213.2" fill="#ff1a1a"/>
<polygon points="176.0,207.8 184.0,207.8 180.0,214.8" fill="#ff1a1a"/>
<polygon points="178.0,200.9 186.0,200.9 182.0,207.9" fill="#ff1a1a"/>
<polygon points="177.0,206.8 185.0,206.8 181.0,213.8" fill="#ff1a1a"/>
<polygon points="184.4,203.0 192.4,203.0 188.4,210.0" fill="#ff1a1a"/>
<polygon points="185.0,208.0 193.0,208.0 189.0,215.0" fill="#ff1a1a"/>
<polygon points="187.6,202.0 195.6,202.0 191.6,209.0" fill="#ff1a1a"/>
<polygon points="187.6,207.0 195.6,207.0 191.6,214.0" fill="#ff1a1a"/>
<polygon points="198.0,205.6 206.0,205.6 202.0,212.6" fill="#ff1a1a"/>
<polygon points="196.4,215.2 204.4,215.2 200.4,222.2" fill="#ff1a1a"/>
<polygon points="204.4,214.4 212.4,214.4 208.4,221.4" fill="#ff1a1a"/>
<polygon points="207.6,218.4 215.6,218.4 211.6,225.4" fill="#ff1a1a"/>
<polygon points="217.2,213.6 225.2,213.6 221.2,220.6" fill="#ff1a1a"/>
<polygon points="227.6,224.8 235.6,224.8 231.6,231.8" fill="#ff1a1a"/>
<polygon points="236.4,220.0 244.4,220.0 240.4,227.0" fill="#ff1a1a"/>
<polygon points="252.2,220.8 260.2,220.8 256.2,227.8" fill="#ff1a1a"/>
<polygon points="258.6,224.0 266.6,224.0 262.6,231.0" fill="#ff1a1a"/>
<polygon points="265.0,236.8 273.0,236.8 269.0,243.8" fill="#ff1a1a"/>
<polygon points="275.9,224.8 283.9,224.8 279.9,231.8" fill="#ff1a1a"/>
<polygon points="285.8,227.2 293.8,227.2 289.8,234.2" fill="#ff1a1a"/>
<polygon points="289.8,244.8 297.8,244.8 293.8,251.8" fill="#ff1a1a"/>
<polygon points="303.0,230.0 311.0,230.0 307.0,237.0" fill="#ff1a1a"/>
<polygon points="306.0,230.0 314.0,230.0 310.0,237.0" fill="#ff1a1a"/>
<polygon points="321.6,232.0 329.6,232.0 325.6,239.0" fill="#ff1a1a"/>
<polygon points="324.0,232.0 332.0,232.0 328.0,239.0" fill="#ff1a1a"/>
<polygon points="321.6,255.0 329.6,255.0 325.6,262.0" fill="#ff1a1a"/>
<polygon points="345.0,235.0 353.0,235.0 349.0,242.0" fill="#ff1a1a"/>
<polygon points="341.6,261.4 349.6,261.4 345.6,268.4" fill="#ff1a1a"/>
<polygon points="363.6,268.6 371.6,268.6 367.6,275.6" fill="#ff1a1a"/>
<polygon points="147.1,161.8 153.5,161.8 150.3,167.4" fill="none" stroke="#ff4a4a" stroke-width="1.1" stroke-linejoin="miter"/>
<polygon points="152.5,161.1 158.9,161.1 155.7,166.8" fill="none" stroke="#ff4a4a" stroke-width="1.1" stroke-linejoin="miter"/>
<polygon points="157.8,161.8 164.2,161.8 161.0,167.4" fill="none" stroke="#ff4a4a" stroke-width="1.1" stroke-linejoin="miter"/>
<polygon points="164.5,160.4 170.9,160.4 167.7,166.1" fill="none" stroke="#ff4a4a" stroke-width="1.1" stroke-linejoin="miter"/>
<polygon points="168.5,161.1 174.9,161.1 171.7,166.8" fill="none" stroke="#ff4a4a" stroke-width="1.1" stroke-linejoin="miter"/>
<polygon points="177.8,161.1 184.2,161.1 181.0,166.8" fill="none" stroke="#ff4a4a" stroke-width="1.1" stroke-linejoin="miter"/>
<polygon points="187.1,158.4 193.5,158.4 190.3,164.1" fill="none" stroke="#ff4a4a" stroke-width="1.1" stroke-linejoin="miter"/>
<polygon points="188.5,161.1 194.9,161.1 191.7,166.8" fill="none" stroke="#ff4a4a" stroke-width="1.1" stroke-linejoin="miter"/>
<polygon points="188.4,174.9 194.8,174.9 191.6,180.6" fill="none" stroke="#ff4a4a" stroke-width="1.1" stroke-linejoin="miter"/>
<polygon points="197.2,175.8 203.6,175.8 200.4,181.4" fill="none" stroke="#ff4a4a" stroke-width="1.1" stroke-linejoin="miter"/>
<polygon points="208.4,176.6 214.8,176.6 211.6,182.2" fill="none" stroke="#ff4a4a" stroke-width="1.1" stroke-linejoin="miter"/>
<polygon points="228.4,177.3 234.8,177.3 231.6,183.0" fill="none" stroke="#ff4a4a" stroke-width="1.1" stroke-linejoin="miter"/>
<polygon points="198.8,162.2 205.2,162.2 202.0,167.8" fill="none" stroke="#ff4a4a" stroke-width="1.1" stroke-linejoin="miter"/>
<polygon points="205.2,162.9 211.6,162.9 208.4,168.6" fill="none" stroke="#ff4a4a" stroke-width="1.1" stroke-linejoin="miter"/>
<polygon points="218.0,156.6 224.4,156.6 221.2,162.2" fill="none" stroke="#ff4a4a" stroke-width="1.1" stroke-linejoin="miter"/>
<polygon points="237.2,161.3 243.6,161.3 240.4,167.0" fill="none" stroke="#ff4a4a" stroke-width="1.1" stroke-linejoin="miter"/>
<polygon points="253.0,153.9 259.4,153.9 256.2,159.6" fill="none" stroke="#ff4a4a" stroke-width="1.1" stroke-linejoin="miter"/>
<polygon points="259.4,160.3 265.8,160.3 262.6,166.0" fill="none" stroke="#ff4a4a" stroke-width="1.1" stroke-linejoin="miter"/>
<polygon points="276.7,152.7 283.1,152.7 279.9,158.3" fill="none" stroke="#ff4a4a" stroke-width="1.1" stroke-linejoin="miter"/>
<polygon points="286.6,159.6 293.0,159.6 289.8,165.2" fill="none" stroke="#ff4a4a" stroke-width="1.1" stroke-linejoin="miter"/>
<polygon points="265.8,178.8 272.2,178.8 269.0,184.4" fill="none" stroke="#ff4a4a" stroke-width="1.1" stroke-linejoin="miter"/>
<polygon points="290.6,179.8 297.0,179.8 293.8,185.5" fill="none" stroke="#ff4a4a" stroke-width="1.1" stroke-linejoin="miter"/>
<polygon points="305.8,151.8 312.2,151.8 309.0,157.4" fill="none" stroke="#ff4a4a" stroke-width="1.1" stroke-linejoin="miter"/>
<polygon points="302.8,159.8 309.2,159.8 306.0,165.4" fill="none" stroke="#ff4a4a" stroke-width="1.1" stroke-linejoin="miter"/>
<polygon points="324.8,151.8 331.2,151.8 328.0,157.4" fill="none" stroke="#ff4a4a" stroke-width="1.1" stroke-linejoin="miter"/>
<polygon points="322.4,158.8 328.8,158.8 325.6,164.4" fill="none" stroke="#ff4a4a" stroke-width="1.1" stroke-linejoin="miter"/>
<polygon points="345.8,151.8 352.2,151.8 349.0,157.4" fill="none" stroke="#ff4a4a" stroke-width="1.1" stroke-linejoin="miter"/>
<polygon points="322.4,181.8 328.8,181.8 325.6,187.4" fill="none" stroke="#ff4a4a" stroke-width="1.1" stroke-linejoin="miter"/>
<polygon points="342.4,182.8 348.8,182.8 345.6,188.4" fill="none" stroke="#ff4a4a" stroke-width="1.1" stroke-linejoin="miter"/>
<polygon points="364.4,183.8 370.8,183.8 367.6,189.4" fill="none" stroke="#ff4a4a" stroke-width="1.1" stroke-linejoin="miter"/>
<polygon points="132.2,170.7 137.8,170.7 135.0,175.7" fill="none" stroke="#ff3a3a" stroke-width="1.0"/>
<polygon points="142.2,170.7 147.8,170.7 145.0,175.7" fill="none" stroke="#ff3a3a" stroke-width="1.0"/>
<polygon points="152.2,170.7 157.8,170.7 155.0,175.7" fill="none" stroke="#ff3a3a" stroke-width="1.0"/>
<polygon points="162.2,170.7 167.8,170.7 165.0,175.7" fill="none" stroke="#ff3a3a" stroke-width="1.0"/>
<polygon points="172.2,170.7 177.8,170.7 175.0,175.7" fill="none" stroke="#ff3a3a" stroke-width="1.0"/>
<polygon points="180.9,170.7 186.5,170.7 183.7,175.7" fill="none" stroke="#ff3a3a" stroke-width="1.0"/>
<polygon points="137.2,174.0 142.8,174.0 140.0,179.0" fill="none" stroke="#ff3a3a" stroke-width="1.0"/>
<polygon points="147.2,174.0 152.8,174.0 150.0,179.0" fill="none" stroke="#ff3a3a" stroke-width="1.0"/>
<polygon points="157.2,174.0 162.8,174.0 160.0,179.0" fill="none" stroke="#ff3a3a" stroke-width="1.0"/>
<polygon points="167.2,174.0 172.8,174.0 170.0,179.0" fill="none" stroke="#ff3a3a" stroke-width="1.0"/>
<polygon points="177.2,174.0 182.8,174.0 180.0,179.0" fill="none" stroke="#ff3a3a" stroke-width="1.0"/>
<polygon points="59.5,290.0 62.0,287.3 71.0,288.5 80.0,290.3 87.0,291.4 103.0,294.2 120.0,297.5 130.8,299.3 140.0,301.2 140.0,310.9 130.8,309.0 120.0,306.5 103.0,302.5 87.0,299.5 71.0,296.8 62.0,295.0 59.5,292.5" fill="#5a12d6"/>
<polygon points="59.5,291.0 62.0,288.3 71.0,289.5 80.0,291.3 87.0,292.4 103.0,295.2 120.0,298.5 130.8,300.3 140.0,302.2 140.0,309.7 130.8,307.8 120.0,305.3 103.0,301.3 87.0,298.3 71.0,295.6 62.0,293.8 59.5,291.3" fill="#ff1a1a"/>
<polygon points="71.0,290.1 80.0,291.9 87.0,293.0 103.0,295.8 120.0,299.1 130.8,300.9 140.0,302.8 140.0,309.1 130.8,307.2 120.0,304.7 103.0,300.7 87.0,297.7 71.0,295.0" fill="url(#hatch)"/>
<circle cx="125.5" cy="304.4" r="3.0" fill="none" stroke="#5a12d6" stroke-width="1.0"/>
<circle cx="127.7" cy="304.6" r="3.0" fill="none" stroke="#5a12d6" stroke-width="1.0"/>
<circle cx="130.9" cy="304.4" r="3.0" fill="none" stroke="#5a12d6" stroke-width="1.0"/>
<circle cx="133.1" cy="305.6" r="3.0" fill="none" stroke="#5a12d6" stroke-width="1.0"/>
<circle cx="135.2" cy="304.6" r="3.0" fill="none" stroke="#5a12d6" stroke-width="1.0"/>
<circle cx="137.3" cy="306.0" r="3.0" fill="none" stroke="#5a12d6" stroke-width="1.0"/>
<circle cx="139.3" cy="306.1" r="3.0" fill="none" stroke="#5a12d6" stroke-width="1.0"/>
<polygon points="122.8,300.2 129.4,300.2 126.1,305.9" fill="none" stroke="#ff2a2a" stroke-width="1.0"/>
<polygon points="124.9,300.2 131.5,300.2 128.2,305.9" fill="none" stroke="#ff2a2a" stroke-width="1.0"/>
<polygon points="127.6,300.1 134.2,300.1 130.9,305.8" fill="none" stroke="#ff2a2a" stroke-width="1.0"/>
<polygon points="129.6,301.0 136.2,301.0 132.9,306.7" fill="none" stroke="#ff2a2a" stroke-width="1.0"/>
<polygon points="131.9,299.8 138.5,299.8 135.2,305.5" fill="none" stroke="#ff2a2a" stroke-width="1.0"/>
<polygon points="133.3,302.3 139.9,302.3 136.6,308.0" fill="none" stroke="#ff2a2a" stroke-width="1.0"/>
<polygon points="136.2,301.0 142.8,301.0 139.5,306.7" fill="none" stroke="#ff2a2a" stroke-width="1.0"/>
<polygon points="138.4,301.3 145.0,301.3 141.7,307.0" fill="none" stroke="#ff2a2a" stroke-width="1.0"/>
<polygon points="140.1,302.3 146.7,302.3 143.4,308.0" fill="none" stroke="#ff2a2a" stroke-width="1.0"/>
<polygon points="142.2,302.1 148.8,302.1 145.5,307.8" fill="none" stroke="#ff2a2a" stroke-width="1.0"/>
<polygon points="144.7,303.6 151.3,303.6 148.0,309.3" fill="none" stroke="#ff2a2a" stroke-width="1.0"/>
<polygon points="146.7,304.1 153.3,304.1 150.0,309.8" fill="none" stroke="#ff2a2a" stroke-width="1.0"/>
<polygon points="149.6,303.2 156.2,303.2 152.9,308.9" fill="none" stroke="#ff2a2a" stroke-width="1.0"/>
<polygon points="151.1,303.7 157.7,303.7 154.4,309.4" fill="none" stroke="#ff2a2a" stroke-width="1.0"/>
<polygon points="153.7,304.9 160.3,304.9 157.0,310.6" fill="none" stroke="#ff2a2a" stroke-width="1.0"/>
<polygon points="155.6,304.9 162.2,304.9 158.9,310.6" fill="none" stroke="#ff2a2a" stroke-width="1.0"/>
<polygon points="158.2,306.5 164.8,306.5 161.5,312.2" fill="none" stroke="#ff2a2a" stroke-width="1.0"/>
<polygon points="160.0,307.1 166.6,307.1 163.3,312.8" fill="none" stroke="#ff2a2a" stroke-width="1.0"/>
<polygon points="162.0,306.5 168.6,306.5 165.3,312.2" fill="none" stroke="#ff2a2a" stroke-width="1.0"/>
<polygon points="165.0,306.7 171.6,306.7 168.3,312.4" fill="none" stroke="#ff2a2a" stroke-width="1.0"/>
<polygon points="166.3,306.7 172.9,306.7 169.6,312.4" fill="none" stroke="#ff2a2a" stroke-width="1.0"/>
<circle cx="137.7" cy="306.2" r="3.0" fill="none" stroke="#5a12d6" stroke-width="1.1"/>
<circle cx="139.8" cy="307.2" r="3.0" fill="none" stroke="#5a12d6" stroke-width="1.1"/>
<circle cx="142.1" cy="307.1" r="3.0" fill="none" stroke="#5a12d6" stroke-width="1.1"/>
<circle cx="145.1" cy="307.2" r="3.0" fill="none" stroke="#5a12d6" stroke-width="1.1"/>
<circle cx="147.3" cy="308.4" r="3.0" fill="none" stroke="#5a12d6" stroke-width="1.1"/>
<circle cx="149.1" cy="308.6" r="3.0" fill="none" stroke="#5a12d6" stroke-width="1.1"/>
<circle cx="151.3" cy="308.5" r="3.0" fill="none" stroke="#5a12d6" stroke-width="1.1"/>
<circle cx="153.9" cy="309.0" r="3.0" fill="none" stroke="#5a12d6" stroke-width="1.1"/>
<circle cx="156.1" cy="310.4" r="3.0" fill="none" stroke="#5a12d6" stroke-width="1.1"/>
<circle cx="157.3" cy="309.6" r="3.0" fill="none" stroke="#5a12d6" stroke-width="1.1"/>
<circle cx="160.0" cy="311.3" r="3.0" fill="none" stroke="#5a12d6" stroke-width="1.1"/>
<circle cx="161.8" cy="311.3" r="3.0" fill="none" stroke="#5a12d6" stroke-width="1.1"/>
<circle cx="164.3" cy="312.1" r="3.0" fill="none" stroke="#5a12d6" stroke-width="1.1"/>
<circle cx="167.1" cy="312.5" r="3.0" fill="none" stroke="#5a12d6" stroke-width="1.1"/>
<circle cx="168.5" cy="312.9" r="3.0" fill="none" stroke="#5a12d6" stroke-width="1.1"/>
<circle cx="170.9" cy="313.5" r="3.0" fill="none" stroke="#5a12d6" stroke-width="1.1"/>
<circle cx="166.9" cy="313.1" r="3.00" fill="none" stroke="#5a12d6" stroke-width="1.3"/>
<circle cx="172.5" cy="314.9" r="3.00" fill="none" stroke="#5a12d6" stroke-width="1.3"/>
<circle cx="178.1" cy="314.0" r="3.00" fill="none" stroke="#5a12d6" stroke-width="1.3"/>
<circle cx="181.8" cy="316.8" r="3.00" fill="none" stroke="#5a12d6" stroke-width="1.3"/>
<circle cx="191.1" cy="316.8" r="3.00" fill="none" stroke="#5a12d6" stroke-width="1.3"/>
<circle cx="201.4" cy="317.7" r="3.00" fill="none" stroke="#5a12d6" stroke-width="1.3"/>
<circle cx="207.9" cy="322.4" r="3.00" fill="none" stroke="#5a12d6" stroke-width="1.3"/>
<circle cx="211.7" cy="319.6" r="3.00" fill="none" stroke="#5a12d6" stroke-width="1.3"/>
<circle cx="221.0" cy="324.3" r="3.00" fill="none" stroke="#5a12d6" stroke-width="1.3"/>
<circle cx="231.5" cy="324.3" r="3.00" fill="none" stroke="#5a12d6" stroke-width="1.3"/>
<circle cx="240.3" cy="330.0" r="3.00" fill="none" stroke="#5a12d6" stroke-width="1.3"/>
<circle cx="256.1" cy="331.8" r="3.00" fill="none" stroke="#5a12d6" stroke-width="1.3"/>
<circle cx="262.7" cy="335.2" r="3.00" fill="none" stroke="#5a12d6" stroke-width="1.3"/>
<circle cx="269.2" cy="331.8" r="3.00" fill="none" stroke="#5a12d6" stroke-width="1.3"/>
<circle cx="279.5" cy="337.0" r="3.00" fill="none" stroke="#5a12d6" stroke-width="1.3"/>
<circle cx="289.7" cy="340.2" r="3.00" fill="none" stroke="#5a12d6" stroke-width="1.3"/>
<circle cx="294.6" cy="337.2" r="3.00" fill="none" stroke="#5a12d6" stroke-width="1.3"/>
<circle cx="306.7" cy="343.1" r="3.00" fill="none" stroke="#5a12d6" stroke-width="1.3"/>
<circle cx="310.4" cy="343.1" r="3.00" fill="none" stroke="#5a12d6" stroke-width="1.3"/>
<circle cx="325.9" cy="344.2" r="3.00" fill="none" stroke="#5a12d6" stroke-width="1.3"/>
<circle cx="328.1" cy="345.3" r="3.00" fill="none" stroke="#5a12d6" stroke-width="1.3"/>
<circle cx="345.1" cy="347.4" r="3.00" fill="none" stroke="#5a12d6" stroke-width="1.3"/>
<circle cx="349.4" cy="347.4" r="3.00" fill="none" stroke="#5a12d6" stroke-width="1.3"/>
<circle cx="367.5" cy="351.7" r="3.00" fill="none" stroke="#5a12d6" stroke-width="1.3"/>
<polygon points="187.9,311.6 194.3,311.6 191.1,317.4" fill="none" stroke="#ff4a4a" stroke-width="1.1" stroke-linejoin="miter"/>
<polygon points="199.1,312.2 205.5,312.2 202.3,318.0" fill="none" stroke="#ff4a4a" stroke-width="1.1" stroke-linejoin="miter"/>
<polygon points="217.8,320.1 224.2,320.1 221.0,325.8" fill="none" stroke="#ff4a4a" stroke-width="1.1" stroke-linejoin="miter"/>
<polygon points="228.1,322.9 234.5,322.9 231.3,328.6" fill="none" stroke="#ff4a4a" stroke-width="1.1" stroke-linejoin="miter"/>
<polygon points="237.1,324.9 243.5,324.9 240.3,330.6" fill="none" stroke="#ff4a4a" stroke-width="1.1" stroke-linejoin="miter"/>
<polygon points="252.9,327.6 259.3,327.6 256.1,333.3" fill="none" stroke="#ff4a4a" stroke-width="1.1" stroke-linejoin="miter"/>
<polygon points="259.5,328.6 265.9,328.6 262.7,334.3" fill="none" stroke="#ff4a4a" stroke-width="1.1" stroke-linejoin="miter"/>
<polygon points="266.0,331.4 272.4,331.4 269.2,337.1" fill="none" stroke="#ff4a4a" stroke-width="1.1" stroke-linejoin="miter"/>
<polygon points="276.3,332.2 282.7,332.2 279.5,338.0" fill="none" stroke="#ff4a4a" stroke-width="1.1" stroke-linejoin="miter"/>
<polygon points="286.5,332.2 292.9,332.2 289.7,338.0" fill="none" stroke="#ff4a4a" stroke-width="1.1" stroke-linejoin="miter"/>
<polygon points="291.2,336.9 297.6,336.9 294.4,342.7" fill="none" stroke="#ff4a4a" stroke-width="1.1" stroke-linejoin="miter"/>
<polygon points="302.5,334.1 308.9,334.1 305.7,339.9" fill="none" stroke="#ff4a4a" stroke-width="1.1" stroke-linejoin="miter"/>
<polygon points="305.7,335.2 312.1,335.2 308.9,341.0" fill="none" stroke="#ff4a4a" stroke-width="1.1" stroke-linejoin="miter"/>
<polygon points="321.7,335.2 328.1,335.2 324.9,341.0" fill="none" stroke="#ff4a4a" stroke-width="1.1" stroke-linejoin="miter"/>
<polygon points="324.9,336.9 331.3,336.9 328.1,342.7" fill="none" stroke="#ff4a4a" stroke-width="1.1" stroke-linejoin="miter"/>
<polygon points="345.1,339.4 351.5,339.4 348.3,345.2" fill="none" stroke="#ff4a4a" stroke-width="1.1" stroke-linejoin="miter"/>
<polygon points="364.3,351.2 370.7,351.2 367.5,357.0" fill="none" stroke="#ff4a4a" stroke-width="1.1" stroke-linejoin="miter"/>
<polygon points="164.1,311.1 169.7,311.1 166.9,316.1" fill="none" stroke="#ff3a3a" stroke-width="1.0"/>
<polygon points="169.7,312.9 175.3,312.9 172.5,317.9" fill="none" stroke="#ff3a3a" stroke-width="1.0"/>
<polygon points="175.3,312.0 180.9,312.0 178.1,317.0" fill="none" stroke="#ff3a3a" stroke-width="1.0"/>
<polygon points="179.0,314.8 184.6,314.8 181.8,319.8" fill="none" stroke="#ff3a3a" stroke-width="1.0"/>
<polygon points="188.3,314.8 193.9,314.8 191.1,319.8" fill="none" stroke="#ff3a3a" stroke-width="1.0"/>
<polygon points="198.6,315.7 204.2,315.7 201.4,320.7" fill="none" stroke="#ff3a3a" stroke-width="1.0"/>
<polygon points="205.1,320.4 210.7,320.4 207.9,325.4" fill="none" stroke="#ff3a3a" stroke-width="1.0"/>
<polygon points="208.9,317.6 214.5,317.6 211.7,322.6" fill="none" stroke="#ff3a3a" stroke-width="1.0"/>
<polygon points="218.2,322.3 223.8,322.3 221.0,327.3" fill="none" stroke="#ff3a3a" stroke-width="1.0"/>
<text x="48.4" y="121.5" font-size="10" fill="#222" text-anchor="end">60</text>
<text x="48.4" y="93.3" font-size="10" fill="#222" text-anchor="end">70</text>
<text x="48.4" y="65.2" font-size="10" fill="#222" text-anchor="end">80</text>
<text x="48.4" y="37.0" font-size="10" fill="#222" text-anchor="end">90</text>
<text x="48.4" y="7.9" font-size="10" fill="#222" text-anchor="end">100</text>
<text x="48.4" y="268.4" font-size="10" fill="#222" text-anchor="end">60</text>
<text x="48.4" y="244.8" font-size="10" fill="#222" text-anchor="end">70</text>
<text x="48.4" y="221.1" font-size="10" fill="#222" text-anchor="end">80</text>
<text x="48.4" y="197.4" font-size="10" fill="#222" text-anchor="end">90</text>
<text x="48.4" y="173.8" font-size="10" fill="#222" text-anchor="end">100</text>
<text x="48.4" y="435.0" font-size="10" fill="#222" text-anchor="end">0</text>
<text x="48.4" y="406.6" font-size="10" fill="#222" text-anchor="end">20</text>
<text x="48.4" y="378.2" font-size="10" fill="#222" text-anchor="end">40</text>
<text x="48.4" y="349.8" font-size="10" fill="#222" text-anchor="end">60</text>
<text x="48.4" y="321.4" font-size="10" fill="#222" text-anchor="end">80</text>
<text x="55.2" y="448.6" font-size="10" fill="#222" text-anchor="middle">0</text>
<text x="86.4" y="448.6" font-size="10" fill="#222" text-anchor="middle">10</text>
<text x="117.6" y="448.6" font-size="10" fill="#222" text-anchor="middle">20</text>
<text x="148.8" y="448.6" font-size="10" fill="#222" text-anchor="middle">30</text>
<text x="180.0" y="448.6" font-size="10" fill="#222" text-anchor="middle">40</text>
<text x="211.2" y="448.6" font-size="10" fill="#222" text-anchor="middle">50</text>
<text x="242.5" y="448.6" font-size="10" fill="#222" text-anchor="middle">60</text>
<text x="273.7" y="448.6" font-size="10" fill="#222" text-anchor="middle">70</text>
<text x="304.9" y="448.6" font-size="10" fill="#222" text-anchor="middle">80</text>
<text x="336.1" y="448.6" font-size="10" fill="#222" text-anchor="middle">90</text>
<text x="367.3" y="448.6" font-size="10" fill="#222" text-anchor="middle">100</text>
<text x="221.8" y="464.2" font-size="11.9" fill="#222" text-anchor="middle">Array coverage of field (%)</text>
<text transform="translate(10.9,70.3) rotate(-90)" font-size="11.9" fill="#222" text-anchor="middle">Plant productivity</text>
<text transform="translate(26.0,70.85) rotate(-90)" font-size="11.9" fill="#222" text-anchor="middle">(% of full sun annual)</text>
<text transform="translate(8.6,213.3) rotate(-90)" font-size="11.9" fill="#222" text-anchor="middle">Plant productivity</text>
<text transform="translate(22.7,210.5) rotate(-90)" font-size="11.9" fill="#222" text-anchor="middle">(% of full sun seasonal )</text>
<text transform="translate(11.0,355.2) rotate(-90)" font-size="11.9" fill="#222" text-anchor="middle">Seasonal water consumption</text>
<text transform="translate(23.8,359.0) rotate(-90)" font-size="11.3" fill="#222" text-anchor="middle">(% of full sun)</text>
<text transform="translate(238,26.4) scale(1,1.12)" font-size="10.85" fill="#000">Open - shade tolerant</text>
<text transform="translate(238,39.2) scale(1,1.12)" font-size="10.85" fill="#000">Filled - sun tolerant</text>
<text x="122.6" y="19.5" font-size="13" fill="#ff0000" stroke="#ff0000" stroke-width="0.3">NS</text>
<text x="76.2" y="67.6" font-size="12.6" fill="#5a0ad0" stroke="#5a0ad0" stroke-width="0.3">EW</text>
<text x="68.0" y="123.4" font-size="12.2" fill="#222">(a)</text>
<text x="68.0" y="273.4" font-size="12.2" fill="#222">(b)</text>
<text x="70.3" y="418.6" font-size="12.2" fill="#222">(c)</text>
</svg></body></html>
